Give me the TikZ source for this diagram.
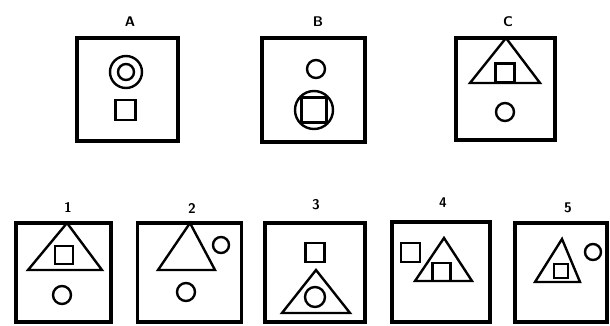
\documentclass[tikz,border=0pt]{standalone}
\usepackage{tikz}

\begin{document}
\begin{tikzpicture}[x=1pt, y=-1pt,
  panel/.style={draw, rectangle, line width=3.6pt, inner sep=0pt},
  ring/.style={draw, circle, line width=2.4pt, inner sep=0pt},
  sq/.style={draw, rectangle, line width=2.4pt, inner sep=0pt},
  tri/.style={draw, line width=2.4pt, line join=miter},
  tag/.style={font=\fontsize{14}{16}\selectfont\sffamily\bfseries, inner sep=0pt}]
  \useasboundingbox (0,0) rectangle (610,325);

  % Top row: A
  \node[tag] (labA) at (130,22) {A};
  \node[panel, minimum width=101pt, minimum height=103pt] (boxA) at (127.5,89.5) {};
  \node[ring, minimum size=32pt] (ringAout) at (126,72) {};
  \node[ring, minimum size=16pt] (ringAin) at (126,72) {};
  \node[sq, minimum size=20pt] (sqA) at (125.5,110) {};

  % Top row: B
  \node[tag] (labB) at (318,22) {B};
  \node[panel, minimum width=103pt, minimum height=104pt] (boxB) at (313.5,90) {};
  \node[ring, minimum size=18pt] (ringB) at (316,69) {};
  \node[ring, minimum size=38pt] (bigB) at (314,110) {};
  \node[sq, minimum size=25pt] (sqB) at (314,110) {};

  % Top row: C
  \node[tag] (labC) at (508,22) {C};
  \node[panel, minimum width=99pt, minimum height=102pt] (boxC) at (505.5,89) {};
  \draw[tri] (506,38) -- (540,83) -- (470,83) -- cycle;
  \node[sq, minimum size=19pt] (sqC) at (505,73) {};
  \node[ring, minimum size=18pt] (ringC) at (505,112) {};

  % Bottom row: 1
  \node[tag] (lab1) at (68,207) {1};
  \node[panel, minimum width=95pt, minimum height=99pt] (box1) at (63.5,272.5) {};
  \draw[tri] (67,223) -- (102,270) -- (28,270) -- cycle;
  \node[sq, minimum size=18pt] (sq1) at (64,255) {};
  \node[ring, minimum size=18pt] (ring1) at (62,295) {};

  % Bottom row: 2
  \node[tag] (lab2) at (192,208) {2};
  \node[panel, minimum width=104pt, minimum height=99pt] (box2) at (189.5,272.5) {};
  \draw[tri] (190,223) -- (215,270) -- (158,270) -- cycle;
  \node[ring, minimum size=16pt] (ring2a) at (221,245) {};
  \node[ring, minimum size=18pt] (ring2b) at (186,292) {};

  % Bottom row: 3
  \node[tag] (lab3) at (316,205) {3};
  \node[panel, minimum width=100pt, minimum height=99pt] (box3) at (315,272.5) {};
  \node[sq, minimum size=19pt] (sq3) at (315,252.5) {};
  \draw[tri] (316,270) -- (350,313) -- (282,313) -- cycle;
  \node[ring, minimum size=20pt] (ring3) at (315,297) {};

  % Bottom row: 4
  \node[tag] (lab4) at (443,203) {4};
  \node[panel, minimum width=98pt, minimum height=100pt] (box4) at (441,272) {};
  \node[sq, minimum size=19pt] (sq4a) at (410.5,252.5) {};
  \draw[tri] (444,238) -- (472,281) -- (415,281) -- cycle;
  \node[sq, minimum size=18pt] (sq4b) at (441.5,272) {};

  % Bottom row: 5
  \node[tag] (lab5) at (568,208) {5};
  \node[panel, minimum width=92pt, minimum height=99pt] (box5) at (561,272.5) {};
  \draw[tri] (562,239) -- (580,282) -- (535,282) -- cycle;
  \node[sq, minimum size=14pt] (sq5) at (561,271) {};
  \node[ring, minimum size=16pt] (ring5) at (593,252) {};
\end{tikzpicture}
\end{document}
